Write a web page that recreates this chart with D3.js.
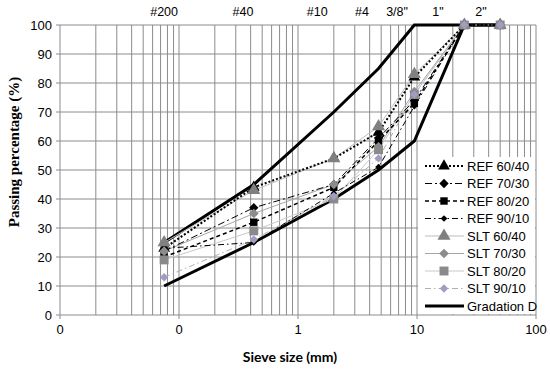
<!DOCTYPE html>
<html>
<head>
<meta charset="utf-8">
<script src="https://cdn.jsdelivr.net/npm/d3@7"></script>
<style>
  body { margin: 0; background: #fff; }
  svg text { font-family: "Liberation Sans", Arial, sans-serif; }
</style>
</head>
<body>
<div id="chart"></div>
<script>
// Sieve sizes (mm) and passing percentages
const sieves = [0.075, 0.425, 2.0, 4.75, 9.5, 25, 50];
const ref6040 = [23, 44, 54, 63, 82, 100, 100];
const ref7030 = [22, 37, 45, 61, 74, 100, 100];
const ref8020 = [20, 32, 44, 60, 73, 100, 100];
const ref9010 = [23, 25, 42, 51, 72, 100, 100];
const slt6040 = [25, 43, 54, 65, 83, 100, 100];
const slt7030 = [22, 35, 45, 58, 77, 100, 100];
const slt8020 = [19, 29, 40, 57, 76, 100, 100];
const slt9010 = [13, 26, 41, 54, 76, 100, 100];

// Gradation D band
const gradLower = [10, 25, 40, 50, 60, 100, 100];
const upperSieves = [0.075, 0.425, 2.0, 4.75, 9.5, 50];
const upperValues = [25, 45, 70, 85, 100, 100];

// Tick labels
const xTicks = [0.01, 0.1, 1, 10, 100];
const xTickLabels = ["0", "0", "1", "10", "100"];
const yTicks = [0, 10, 20, 30, 40, 50, 60, 70, 80, 90, 100];
const sieveNames = ["#200", "#40", "#10", "#4", "3/8\"", "1\"", "2\""];
const sieveNamePos = [0.075, 0.345, 1.45, 3.45, 6.8, 15, 34.5];

const series = [
  { name: "REF 60/40", values: ref6040, stroke: "#000", width: 2, dash: "2,2", marker: "triangle", fill: "#000", size: 60 },
  { name: "REF 70/30", values: ref7030, stroke: "#000", width: 1, dash: "7,3,2,3", marker: "diamond", fill: "#000", size: 55 },
  { name: "REF 80/20", values: ref8020, stroke: "#000", width: 1.5, dash: "4,3", marker: "square", fill: "#000", size: 55 },
  { name: "REF 90/10", values: ref9010, stroke: "#000", width: 1, dash: "6,3,1.5,3", marker: "diamond", fill: "#000", size: 28 },
  { name: "SLT 60/40", values: slt6040, stroke: "#bdbdbd", width: 1, dash: null, marker: "triangle", fill: "#808080", size: 75 },
  { name: "SLT 70/30", values: slt7030, stroke: "#a6a6a6", width: 1, dash: null, marker: "diamond", fill: "#8c8c8c", size: 60 },
  { name: "SLT 80/20", values: slt8020, stroke: "#c8c8c8", width: 1, dash: null, marker: "square", fill: "#8a8a8a", size: 80 },
  { name: "SLT 90/10", values: slt9010, stroke: "#b0b0b0", width: 1, dash: "6,3,1.5,3", marker: "diamond", fill: "#a29cc4", size: 45 }
];

const svg = d3.select("#chart")
  .append("svg")
  .attr("width", 550)
  .attr("height", 371);

const x = d3.scaleLog().domain([0.01, 100]).range([60, 536]);
const y = d3.scaleLinear().domain([0, 100]).range([315, 25]);

// Grid
const grid = svg.append("g");
const minor = [];
[0.01, 0.1, 1, 10].forEach(d => {
  for (let k = 1; k <= 9; k++) minor.push(d * k);
});
minor.push(100);
grid.selectAll("line.v")
  .data(minor)
  .enter()
  .append("line")
  .attr("x1", d => x(d)).attr("x2", d => x(d))
  .attr("y1", y(0)).attr("y2", y(100))
  .attr("stroke", "#8c8c8c")
  .attr("stroke-width", 1);
grid.selectAll("line.h")
  .data(yTicks)
  .enter()
  .append("line")
  .attr("x1", x(0.01) - 4).attr("x2", x(100))
  .attr("y1", d => y(d)).attr("y2", d => y(d))
  .attr("stroke", "#8c8c8c")
  .attr("stroke-width", 1);
grid.selectAll("line.xt")
  .data(xTicks)
  .enter()
  .append("line")
  .attr("x1", d => x(d)).attr("x2", d => x(d))
  .attr("y1", y(0)).attr("y2", y(0) + 4)
  .attr("stroke", "#8c8c8c");

// Axis labels
svg.append("g").selectAll("text")
  .data(yTicks)
  .enter()
  .append("text")
  .attr("x", x(0.01) - 8)
  .attr("y", d => y(d) + 5)
  .attr("text-anchor", "end")
  .attr("font-size", 13)
  .text(d => d);

svg.append("g").selectAll("text")
  .data(xTicks)
  .enter()
  .append("text")
  .attr("x", d => x(d))
  .attr("y", 334)
  .attr("text-anchor", "middle")
  .attr("font-size", 13)
  .text((d, i) => xTickLabels[i]);

svg.append("g").selectAll("text")
  .data(sieveNames)
  .enter()
  .append("text")
  .attr("x", (d, i) => x(sieveNamePos[i]))
  .attr("y", 16)
  .attr("text-anchor", "middle")
  .attr("font-size", 12.5)
  .text(d => d);

svg.append("text")
  .attr("transform", "translate(19,152) rotate(-90)")
  .attr("text-anchor", "middle")
  .style("font-family", "'Liberation Serif', 'Times New Roman', serif")
  .attr("font-weight", "bold")
  .attr("font-size", 15)
  .text("Passing percentage (%)");

svg.append("text")
  .attr("x", 290)
  .attr("y", 362)
  .attr("text-anchor", "middle")
  .style("font-family", "Lato, 'Open Sans', sans-serif")
  .attr("font-weight", "bold")
  .attr("font-size", 14)
  .text("Sieve size (mm)");

// Lines
const line = d3.line()
  .x(d => x(d[0]))
  .y(d => y(d[1]));

const plot = svg.append("g");
plot.append("path")
  .datum(sieves.map((s, i) => [s, gradLower[i]]))
  .attr("d", line)
  .attr("fill", "none")
  .attr("stroke", "#000")
  .attr("stroke-width", 3);
plot.append("path")
  .datum(upperSieves.map((s, i) => [s, upperValues[i]]))
  .attr("d", line)
  .attr("fill", "none")
  .attr("stroke", "#000")
  .attr("stroke-width", 3);

series.slice().reverse().forEach(s => {
  plot.append("path")
    .datum(sieves.map((v, i) => [v, s.values[i]]))
    .attr("d", line)
    .attr("fill", "none")
    .attr("stroke", s.stroke)
    .attr("stroke-width", s.width)
    .attr("stroke-dasharray", s.dash);
});

const symbolType = { triangle: d3.symbolTriangle, diamond: d3.symbolDiamond2, square: d3.symbolSquare };
const sym = (s) => d3.symbol().type(symbolType[s.marker]).size(s.size)();

series.forEach(s => {
  plot.append("g").selectAll("path")
    .data(sieves.map((v, i) => [v, s.values[i]]))
    .enter()
    .append("path")
    .attr("d", sym(s))
    .attr("transform", d => `translate(${x(d[0])},${y(d[1])})`)
    .attr("fill", s.fill);
});

// Legend
const legend = svg.append("g");
legend.append("rect")
  .attr("x", 418).attr("y", 157)
  .attr("width", 117).attr("height", 157)
  .attr("fill", "#fff");

const legendItems = series.concat([{ name: "Gradation D", stroke: "#000", width: 3, dash: null, marker: null }]);
legendItems.forEach((s, i) => {
  const ly = 166 + i * 17.5;
  legend.append("line")
    .attr("x1", 425).attr("x2", 464)
    .attr("y1", ly).attr("y2", ly)
    .attr("stroke", s.stroke)
    .attr("stroke-width", s.width)
    .attr("stroke-dasharray", s.dash);
  if (s.marker) {
    legend.append("path")
      .attr("d", sym(s))
      .attr("transform", `translate(444,${ly})`)
      .attr("fill", s.fill);
  }
  legend.append("text")
    .attr("x", 467)
    .attr("y", ly + 4.5)
    .attr("font-size", 13)
    .text(s.name);
});
</script>
</body>
</html>
